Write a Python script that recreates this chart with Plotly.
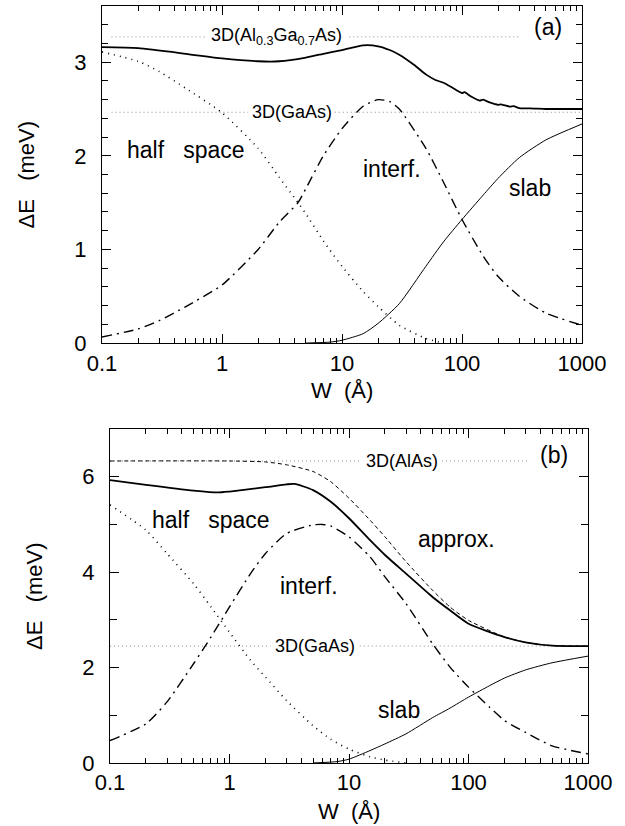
import math
import plotly.graph_objects as go

# ---------------- Panel (a) data ----------------
W_TOT_A = [0.1, 0.2, 0.5, 1, 2, 3, 5, 7, 10, 15, 20, 25, 30, 40, 50, 60, 70, 80, 90, 100, 105, 120, 140, 150,
           170, 200, 210, 250, 270, 300, 400, 500, 700, 1000]
E_TOT_A = [3.16, 3.15, 3.09, 3.04, 3.01, 3.01, 3.05, 3.09, 3.13, 3.18, 3.17, 3.13, 3.08, 2.97, 2.87, 2.81, 2.78,
           2.74, 2.70, 2.67, 2.68, 2.63, 2.59, 2.60, 2.57, 2.545, 2.55, 2.525, 2.53, 2.51, 2.505, 2.50, 2.50, 2.50]

W_HALF_A = [0.1, 0.2, 0.3, 0.5, 1, 2, 3, 4.3, 5, 7, 10, 15, 20, 30, 50, 70]
E_HALF_A = [3.11, 3.01, 2.90, 2.72, 2.46, 2.08, 1.77, 1.50, 1.38, 1.09, 0.82, 0.55, 0.39, 0.19, 0.05, 0.0]

W_INT_A = [0.1, 0.2, 0.3, 0.5, 1, 2, 3, 4.3, 5, 7, 10, 15, 20, 25, 30, 50, 70, 100, 150, 200, 300, 500, 1000]
E_INT_A = [0.065, 0.15, 0.24, 0.39, 0.62, 1.0, 1.29, 1.50, 1.65, 2.0, 2.29, 2.53, 2.60, 2.58, 2.50, 2.08, 1.72,
           1.32, 0.93, 0.71, 0.50, 0.32, 0.19]

W_SLAB_A = [5, 8, 10, 15, 20, 30, 50, 70, 100, 150, 200, 300, 500, 1000]
E_SLAB_A = [0.0, 0.01, 0.03, 0.10, 0.21, 0.42, 0.82, 1.08, 1.32, 1.58, 1.76, 1.98, 2.17, 2.34]

# reference levels: label, value, W segments of the dotted line, label position
REF_A = [
    ("3D(Al<sub>0.3</sub>Ga<sub>0.7</sub>As)", 3.27, [(0.12, 0.72), (11.5, 300)], 2.85),
    ("3D(GaAs)", 2.465, [(0.12, 1.65), (8.7, 1000)], 3.8),
]

# ---------------- Panel (b) data ----------------
W_TOT_B = [0.1, 0.2, 0.5, 0.8, 1, 2, 3, 3.5, 5, 7, 10, 15, 20, 30, 50, 70, 100, 200, 300, 500, 1000]
E_TOT_B = [5.93, 5.83, 5.71, 5.67, 5.69, 5.78, 5.84, 5.85, 5.72, 5.48, 5.13, 4.67, 4.36, 3.97, 3.48, 3.20, 2.92,
           2.64, 2.53, 2.46, 2.45]

W_APP_B = [0.1, 1, 2, 3, 5, 7, 10, 15, 20, 30, 50, 70, 100, 200, 300, 500, 1000]
E_APP_B = [6.33, 6.33, 6.31, 6.25, 6.11, 5.90, 5.55, 5.09, 4.74, 4.22, 3.62, 3.27, 2.99, 2.64, 2.53, 2.46, 2.45]

W_HALF_B = [0.1, 0.2, 0.3, 0.5, 0.7, 1, 1.5, 2, 3, 5, 7, 10, 15, 20, 30]
E_HALF_B = [5.41, 4.88, 4.39, 3.76, 3.27, 2.74, 2.15, 1.80, 1.31, 0.78, 0.50, 0.29, 0.13, 0.06, 0.0]

W_INT_B = [0.1, 0.2, 0.3, 0.5, 0.7, 1, 1.5, 2, 3, 5, 6, 7, 10, 15, 20, 30, 50, 70, 100, 150, 200, 300, 500, 1000]
E_INT_B = [0.47, 0.82, 1.28, 2.08, 2.64, 3.27, 3.97, 4.39, 4.81, 4.99, 5.0, 4.97, 4.74, 4.32, 3.90, 3.34, 2.50,
           2.01, 1.59, 1.17, 0.89, 0.64, 0.36, 0.19]

W_SLAB_B = [5, 8, 10, 15, 20, 30, 50, 70, 100, 150, 200, 300, 500, 1000]
E_SLAB_B = [0.0, 0.03, 0.08, 0.26, 0.40, 0.61, 0.95, 1.15, 1.38, 1.62, 1.78, 1.95, 2.10, 2.24]

REF_B = [
    ("3D(AlAs)", 6.33, [(0.1, 12.5), (60, 316)], 28),
    ("3D(GaAs)", 2.45, [(0.1, 2.2), (12.3, 1000)], 5.2),
]

X_TICKS = [0.1, 1, 10, 100, 1000]
X_TICKTEXT = ["0.1", "1", "10", "100", "1000"]
X_MINOR = [m * d for d in [0.1, 1, 10, 100] for m in range(2, 10)]

FONT = "Liberation Sans, Arial, sans-serif"
SP = "\u00a0\u00a0\u00a0"

fig = go.Figure()


def lg(v):
    return math.log10(v)


def add_curve(x, y, xa, ya, width, dash, color="black"):
    fig.add_trace(go.Scatter(x=x, y=y, xaxis=xa, yaxis=ya, mode="lines",
                             line=dict(color=color, width=width, dash=dash, shape="spline", smoothing=0.6),
                             showlegend=False, hoverinfo="skip"))


def add_refs(refs, xa, ya):
    for label, val, segs, xlab in refs:
        for a, b in segs:
            fig.add_trace(go.Scatter(x=[a, b], y=[val, val], xaxis=xa, yaxis=ya, mode="lines",
                                     line=dict(color="#8a8a8a", width=1, dash="1px,3px"),
                                     showlegend=False, hoverinfo="skip"))
        fig.add_annotation(x=lg(xlab), y=val, xref=xa, yref=ya, text=label, xanchor="center", yanchor="middle",
                           showarrow=False, font=dict(size=18, family=FONT, color="black"))


# panel (a)
add_refs(REF_A, "x", "y")
add_curve(W_HALF_A, E_HALF_A, "x", "y", 1.6, "1px,5px")
add_curve(W_INT_A, E_INT_A, "x", "y", 1.4, "10px,5px,2px,5px")
add_curve(W_SLAB_A, E_SLAB_A, "x", "y", 1.0, "solid")
add_curve(W_TOT_A, E_TOT_A, "x", "y", 1.8, "solid")

# panel (b)
add_refs(REF_B, "x2", "y2")
add_curve(W_APP_B, E_APP_B, "x2", "y2", 1.0, "4px,3px")
add_curve(W_HALF_B, E_HALF_B, "x2", "y2", 1.6, "1px,5px")
add_curve(W_INT_B, E_INT_B, "x2", "y2", 1.4, "10px,5px,2px,5px")
add_curve(W_SLAB_B, E_SLAB_B, "x2", "y2", 1.0, "solid")
add_curve(W_TOT_B, E_TOT_B, "x2", "y2", 1.8, "solid")

# text labels
labels = [
    ("x", "y", 0.5, 2.06, "half" + SP + "space"),
    ("x", "y", 26, 1.86, "interf."),
    ("x", "y", 370, 1.66, "slab"),
    ("x", "y", 520, 3.38, "(a)"),
    ("x2", "y2", 0.7, 5.1, "half" + SP + "space"),
    ("x2", "y2", 79, 4.7, "approx."),
    ("x2", "y2", 4.6, 3.72, "interf."),
    ("x2", "y2", 26, 1.1, "slab"),
    ("x2", "y2", 520, 6.46, "(b)"),
]
for xa, ya, xv, yv, t in labels:
    fig.add_annotation(x=lg(xv), y=yv, xref=xa, yref=ya, text=t, showarrow=False,
                       xanchor="center", yanchor="middle",
                       font=dict(size=23, family=FONT, color="black"))

# axis titles (pixel centres converted to paper fractions)
for xp, yp, t, ang in [(26 / 625, 1 - 174.5 / 826, "\u0394E" + SP + "(meV)", -90),
                       (34 / 625, 1 - 596 / 826, "\u0394E" + SP + "(meV)", -90),
                       (342 / 625, 1 - 391 / 826, "W\u00a0\u00a0(\u00c5)", 0),
                       (349 / 625, 1 - 811 / 826, "W\u00a0\u00a0(\u00c5)", 0)]:
    fig.add_annotation(x=xp, y=yp, xref="paper", yref="paper", text=t, showarrow=False, textangle=ang,
                       xanchor="center", yanchor="middle",
                       font=dict(size=22, family=FONT, color="black"))

xcommon = dict(type="log", range=[-1, 3], tickvals=X_TICKS, ticktext=X_TICKTEXT, ticks="inside", ticklen=9,
               tickwidth=1, tickcolor="black", showline=True, linecolor="black", linewidth=1.2,
               mirror="allticks", showgrid=False, zeroline=False, automargin=False,
               minor=dict(tickvals=X_MINOR, ticks="inside", ticklen=5, tickcolor="black", tickwidth=1,
                          showgrid=False),
               tickfont=dict(size=22, family=FONT, color="black"))
ycommon = dict(ticks="inside", ticklen=9, tickwidth=1, tickcolor="black", showline=True, linecolor="black",
               linewidth=1.2, mirror="allticks", showgrid=False, zeroline=False, ticklabelstandoff=10,
               automargin=False, tickfont=dict(size=22, family=FONT, color="black"))

fig.update_layout(
    width=625, height=826, margin=dict(l=0, r=0, t=0, b=0, autoexpand=False),
    paper_bgcolor="white", plot_bgcolor="white",
    xaxis=dict(domain=[0.1632, 0.9312], anchor="y", **xcommon),
    yaxis=dict(domain=[0.5847, 0.9927], anchor="x", range=[0, 3.6], tickvals=[0, 1, 2, 3],
               minor=dict(dtick=0.2, ticks="inside", ticklen=6, tickcolor="black", showgrid=False), **ycommon),
    xaxis2=dict(domain=[0.176, 0.9408], anchor="y2", **xcommon),
    yaxis2=dict(domain=[0.0763, 0.4806], anchor="x2", range=[0, 7], tickvals=[0, 2, 4, 6],
                minor=dict(dtick=1, ticks="inside", ticklen=7, tickcolor="black", showgrid=False), **ycommon),
)

fig.write_html("out.html")
